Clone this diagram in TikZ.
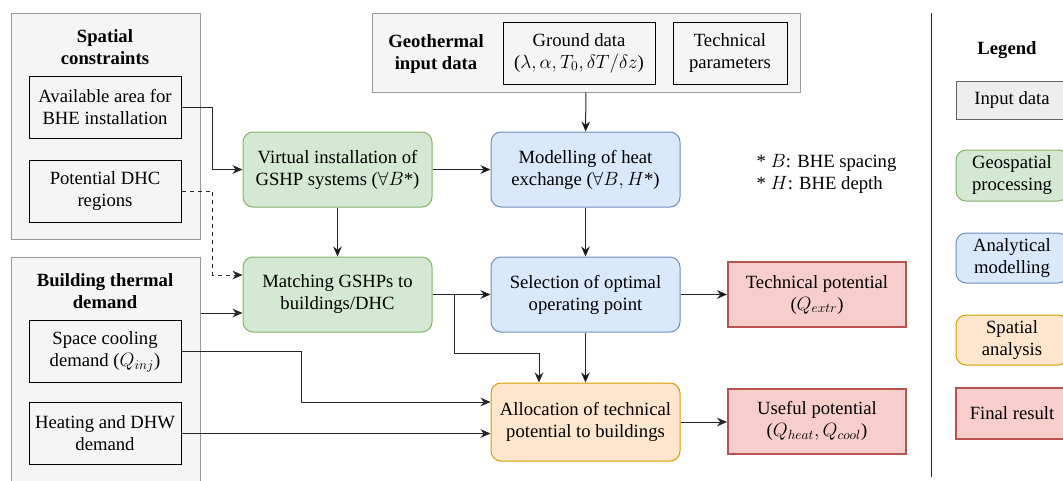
\documentclass[tikz,border=0pt]{standalone}
\usepackage{fontspec}
\setmainfont{Liberation Serif}
\usetikzlibrary{positioning,calc,arrows.meta}
\usepackage{amsmath}

\definecolor{inputfill}{HTML}{F5F5F5}
\definecolor{legfill}{HTML}{EEEEEE}
\definecolor{framegray}{HTML}{999999}
\definecolor{geofill}{HTML}{D5E8D4}
\definecolor{geodraw}{HTML}{82B366}
\definecolor{anafill}{HTML}{DAE8FC}
\definecolor{anadraw}{HTML}{6C8EBF}
\definecolor{spatfill}{HTML}{FFE6CC}
\definecolor{spatdraw}{HTML}{D79B00}
\definecolor{resfill}{HTML}{F8CECC}
\definecolor{resdraw}{HTML}{B85450}

\tikzset{
  every node/.style={font=\fontsize{14}{16.5}\selectfont, align=center},
  frame/.style={draw=framegray, fill=inputfill, line width=0.75pt, inner sep=0pt},
  inbox/.style={draw=black, fill=inputfill, line width=0.75pt,
    minimum width=114pt, minimum height=46.5pt, inner sep=1pt},
  proc/.style={rounded corners=7.5pt, line width=0.75pt,
    minimum width=141.75pt, minimum height=56.25pt, inner sep=1pt},
  geoproc/.style={proc, draw=geodraw, fill=geofill},
  anaproc/.style={proc, draw=anadraw, fill=anafill},
  spatproc/.style={proc, draw=spatdraw, fill=spatfill},
  result/.style={draw=resdraw, fill=resfill, line width=1.5pt,
    minimum width=133.5pt, minimum height=48.75pt, inner sep=1pt},
  arr/.style={-{Stealth[length=7.5pt,width=6.5pt]}, line width=0.75pt, draw=black!85},
}

\begin{document}
\begin{tikzpicture}[x=0.75pt, y=-0.75pt]
  \useasboundingbox (0,0) rectangle (1063,480);
  % input frames
  \node[frame, minimum width=141.75pt, minimum height=169.5pt] (spat) at (105.5,126) {};%
  \node[frame, minimum width=141.75pt, minimum height=174.75pt] (bldg) at (105.5,373.5) {};%
  \node[frame, minimum width=321pt, minimum height=59.25pt] (geo) at (586,52.5) {};%
  \node[font=\fontsize{14}{16.5}\selectfont\bfseries] (spattitle) at (105,47) {Spatial\\constraints};%
  \node[font=\fontsize{14}{16.5}\selectfont\bfseries] (bldgtitle) at (105,291) {Building thermal\\demand};%
  \node[font=\fontsize{14}{16.5}\selectfont\bfseries] (geotitle) at (436,54) {Geothermal\\input data};%
  % input data
  \node[inbox] (avail) at (105,107) {Available area for\\BHE installation};%
  \node[inbox] (dhcreg) [below=63pt of avail.center, anchor=center] {Potential DHC\\regions};%
  \node[inbox] (cool) at (105,351.5) {Space cooling\\demand ($Q_{inj}$)};%
  \node[inbox] (dhw) [below=61.5pt of cool.center, anchor=center] {Heating and DHW\\demand};%
  \node[inbox] (ground) at (579,53) {Ground data\\($\lambda, \alpha, T_0, \delta T/\delta z$)};%
  \node[inbox, minimum width=85.5pt] (techpar) at (730,53) {Technical\\parameters};%
  % processing steps
  \node[geoproc] (virt) at (337.5,169.5) {Virtual installation of\\GSHP systems ($\forall B$*)};%
  \node[geoproc] (match) [below=93.75pt of virt.center, anchor=center] {Matching GSHPs to\\buildings/DHC};%
  \node[anaproc] (model) at (585.5,169.5) {Modelling of heat\\exchange ($\forall B, H$*)};%
  \node[anaproc] (select) [below=93.75pt of model.center, anchor=center] {Selection of optimal\\operating point};%
  \node[spatproc, minimum height=58.5pt] (alloc) at (585.5,422) {Allocation of technical\\potential to buildings};%
  \node[result] (techpot) at (817,294.5) {Technical potential\\($Q_{extr}$)};%
  \node[result] (usepot) at (817,421) {Useful potential\\($Q_{heat}, Q_{cool}$)};%
  \node[align=left, anchor=west] (notes) at (752,174) {* $B$: BHE spacing\\* $H$: BHE depth};%
  % connectors
  \draw[arr] (avail.east) -- ++(31,0) |- (virt.west);
  \draw[arr, dashed] (dhcreg.east) -- ++(31,0) |- ($(match.west)+(0,-19.5)$);
  \coordinate (mlow) at ($(match.west)+(0,18.5)$);
  \draw[arr] (bldg.east |- mlow) -- (mlow);
  \path[arr] (virt) edge (match)
    edge (model);
  \path[arr] (geo) edge (model)
    (model) edge (select)
    (match) edge (select)
    (select) edge (alloc)
    (select) edge (techpot);
  \draw[arr] ($(match.east)+(22,0)$) -- ++(0,58.5) -| ($(alloc.north)+(-46.5,0)$);
  \draw[arr] (cool.east) -- ++(120,0) |- ($(alloc.west)+(0,-20)$);
  \draw[arr] (dhw.east) -- (dhw.east -| alloc.west);
  \draw[arr] (alloc.east) -- (alloc.east -| usepot.west);
  % legend
  \draw[line width=0.75pt, draw=black!85] (931,13) -- (931,477);
  \node[font=\fontsize{14}{16.5}\selectfont\bfseries] (legtitle) at (1007,50) {Legend};%
  \node[draw=black!60, fill=legfill, line width=0.75pt, minimum width=84pt,
    minimum height=28.5pt] (leginput) at (1012,100) {Input data};%
  \node[geoproc, minimum width=84pt, minimum height=38.25pt] (leggeo) at (1012,175.5) {Geospatial\\processing};%
  \node[anaproc, minimum width=84pt, minimum height=37.5pt] (legana) at (1012,258) {Analytical\\modelling};%
  \node[spatproc, minimum width=84pt, minimum height=37.5pt] (legspat) at (1012,340) {Spatial\\analysis};%
  \node[result, minimum width=84pt, minimum height=38.25pt] (legres) at (1012,413.5) {Final result};%
\end{tikzpicture}
\end{document}
